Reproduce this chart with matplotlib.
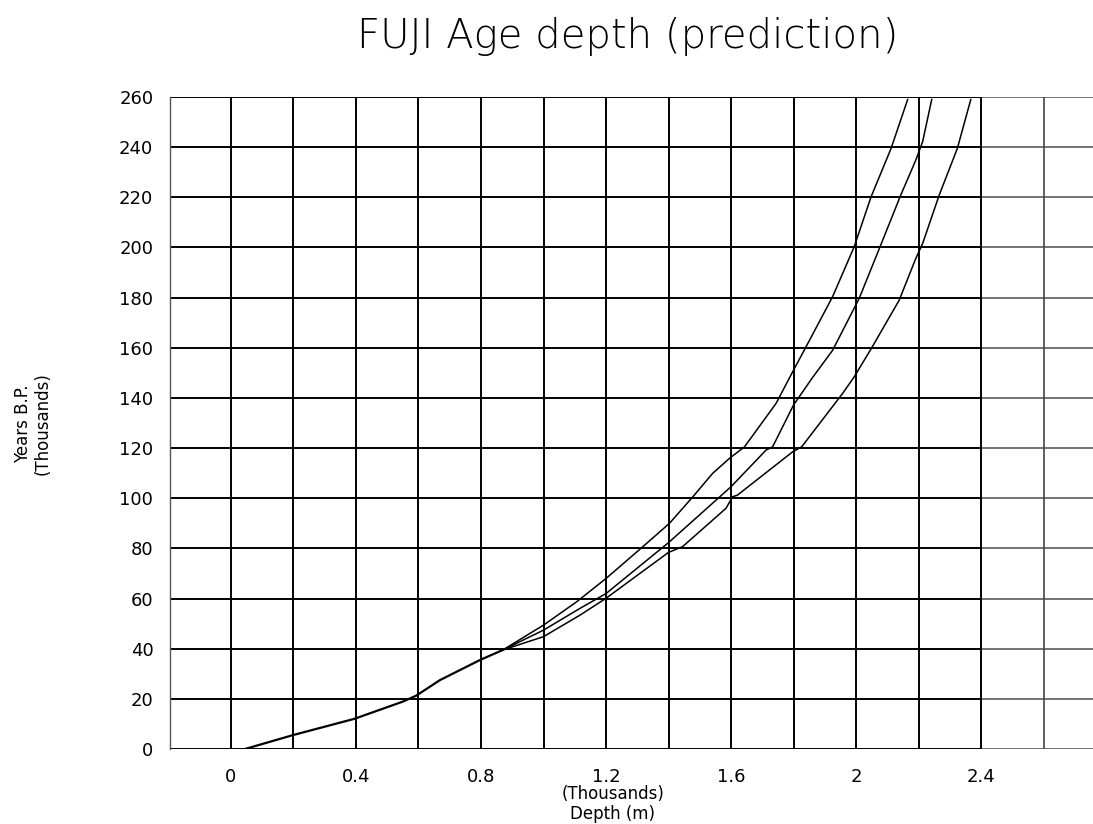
import matplotlib
matplotlib.use("Agg")
import matplotlib.pyplot as plt

# depth in thousands of metres, age in thousands of years B.P.
# common trunk of the three predictions (they overlap down to ~0.87 km)
shared_depth = [0.045, 0.2, 0.394, 0.55, 0.593, 0.669, 0.797, 0.87]
shared_age = [0, 5.6, 12, 18.9, 21.3, 27.5, 35.5, 39.5]

upper_depth = [0.87, 1.0, 1.106, 1.2, 1.318, 1.403, 1.478, 1.541, 1.595, 1.643,
               1.744, 1.797, 1.84, 1.925, 1.994, 2.048, 2.112, 2.165]
upper_age = [39.5, 49.4, 58.7, 68, 80.7, 90, 100.6, 109.9, 115.9, 120.5,
             137.8, 150.4, 160.4, 180.4, 200.3, 220.2, 239.5, 259]

middle_depth = [0.87, 1.0, 1.117, 1.2, 1.4, 1.6, 1.712, 1.733, 1.8, 1.86,
                1.925, 2.01, 2.079, 2.143, 2.191, 2.213, 2.242]
middle_age = [39.5, 47.4, 56.1, 62, 82.3, 104.6, 119.2, 120.5, 137.2, 148,
              159, 179.7, 201, 220.9, 234.8, 242.2, 259]

lower_depth = [0.87, 1.0, 1.117, 1.2, 1.4, 1.445, 1.584, 1.605, 1.62, 1.797,
               1.826, 1.957, 1.994, 2.052, 2.138, 2.191, 2.213, 2.266, 2.324, 2.367]
lower_age = [39.5, 44.8, 53.4, 60.1, 78.4, 80.7, 96, 100.6, 101.2, 118.5,
             120.5, 141.8, 148.4, 160.4, 179, 195.6, 201.6, 220.9, 239.5, 259]

x_ticks = [0, 0.4, 0.8, 1.2, 1.6, 2.0, 2.4]
x_tick_labels = ["0", "0.4", "0.8", "1.2", "1.6", "2", "2.4"]
x_grid = [0, 0.2, 0.4, 0.6, 0.8, 1.0, 1.2, 1.4, 1.6, 1.8, 2.0, 2.2, 2.4]
y_ticks = list(range(0, 261, 20))

X_MIN, X_MAX = -0.195, 2.758

fig = plt.figure(figsize=(10.93, 8.24), dpi=100)
ax = fig.add_axes([170 / 1093, 75 / 824, 923 / 1093, 652 / 824])

# grid: solid up to 2.4, the scanned part beyond it is a bit faded
ax.hlines(y_ticks, X_MIN, 2.4, color="black", lw=1.4, zorder=1)
ax.hlines(y_ticks, 2.4, X_MAX, color="#5a5a5a", lw=1.2, zorder=1)
ax.vlines(x_grid, 0, 260, color="black", lw=1.4, zorder=1)
ax.vlines([2.6], 0, 260, color="#444444", lw=1.2, zorder=1)

ax.plot(shared_depth, shared_age, color="black", lw=1.6, zorder=3)
for d, a in [(upper_depth, upper_age), (middle_depth, middle_age), (lower_depth, lower_age)]:
    ax.plot(d, a, color="black", lw=1.1, zorder=3)

ax.set_xlim(X_MIN, X_MAX)
ax.set_ylim(0, 260)
ax.set_xticks(x_ticks)
ax.set_xticklabels(x_tick_labels)
ax.set_yticks(y_ticks)
ax.tick_params(which="both", length=0, labelsize=13)
ax.tick_params(axis="x", pad=14)
ax.tick_params(axis="y", pad=12)

for side in ["top", "right", "bottom"]:
    ax.spines[side].set_visible(False)
ax.spines["left"].set_color("#555555")
ax.spines["left"].set_linewidth(1.0)

fig.text(628 / 1093, 1 - 37 / 824, "FUJI Age depth (prediction)",
         ha="center", va="center", fontsize=29, fontweight="light")
fig.text(613 / 1093, 1 - 804 / 824, "(Thousands)\nDepth (m)",
         ha="center", va="center", fontsize=12, linespacing=1.15)
fig.text(33 / 1093, 1 - 424 / 824, "Years B.P.\n(Thousands)",
         ha="center", va="center", fontsize=12, rotation=90, linespacing=1.15)

fig.savefig("out.png", dpi=100)
plt.close(fig)
